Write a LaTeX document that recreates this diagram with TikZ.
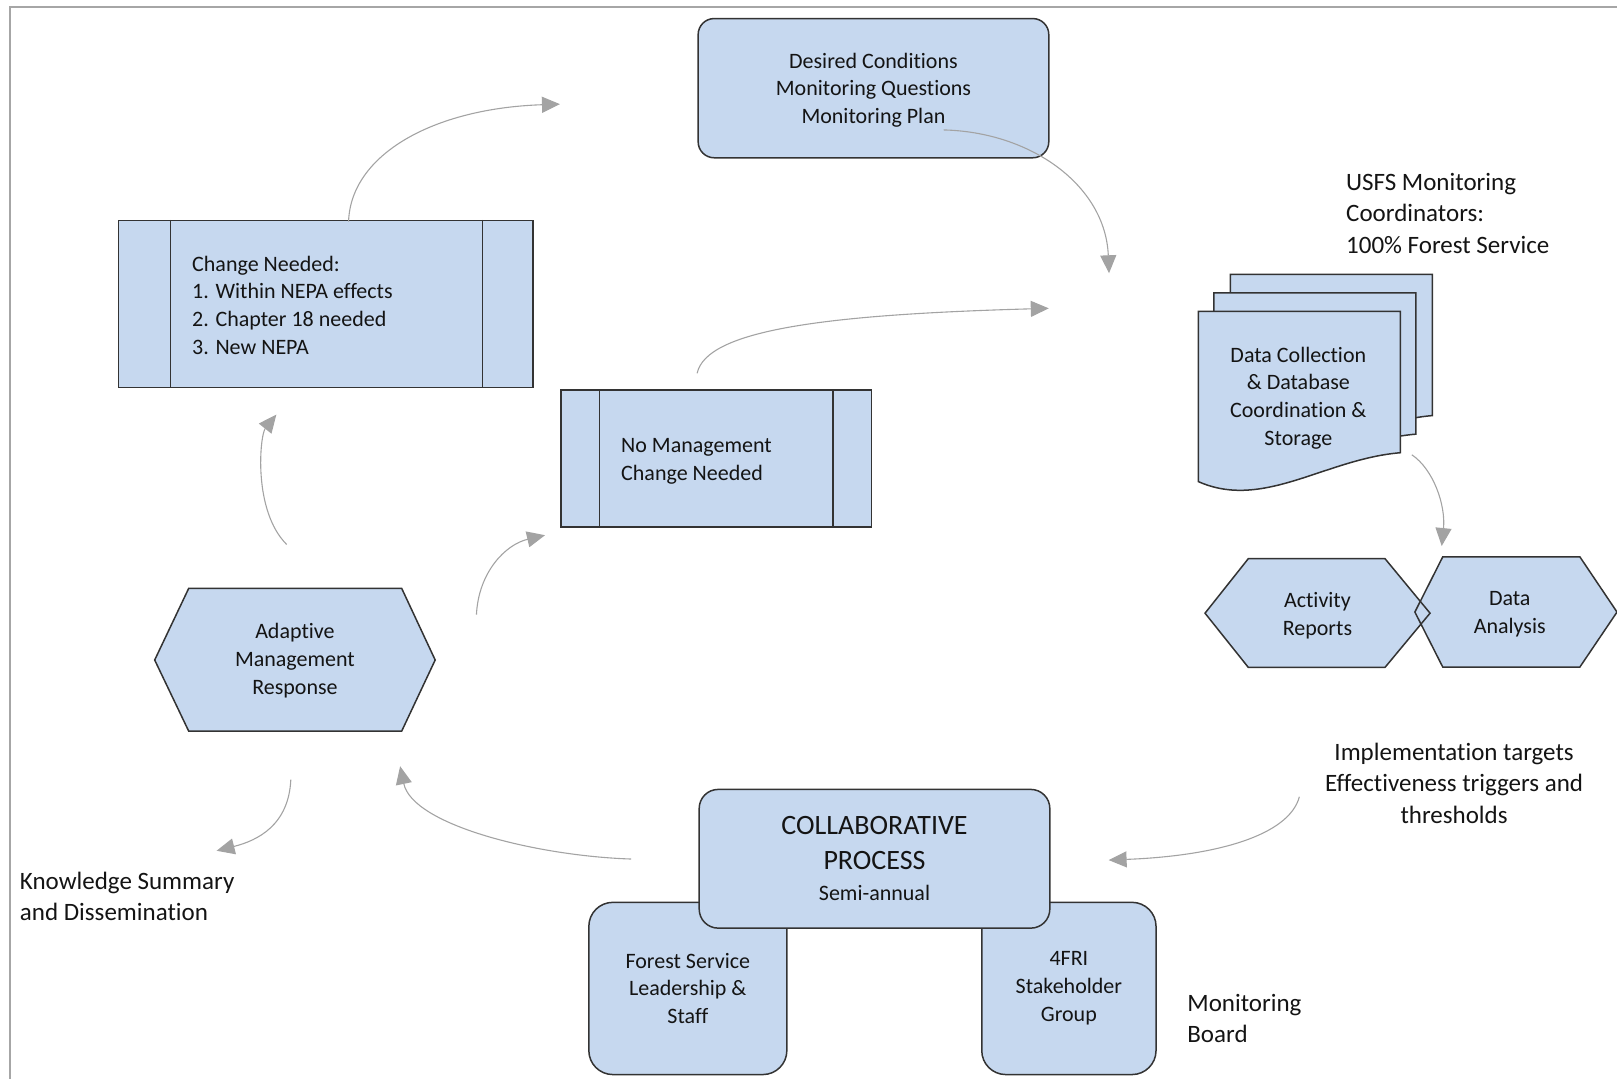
\documentclass[tikz,border=0pt]{standalone}
\usepackage{fontspec}
\setmainfont{Carlito}[Ligatures={NoCommon,NoDiscretionary,NoContextual}]
\usetikzlibrary{arrows.meta}
\definecolor{boxfill}{HTML}{C6D8EF}
\definecolor{boxline}{HTML}{333333}
\definecolor{arrgray}{HTML}{A3A3A3}
\definecolor{framegray}{HTML}{A6A6A6}
\definecolor{txt}{HTML}{141414}
\def\pu{0.515625pt}
\tikzset{
  shapebox/.style={draw=boxline, fill=boxfill, line width=0.75pt},
  plainbox/.style={shapebox, inner sep=0pt},
  rbox/.style={shapebox, rounded corners=#1, inner sep=0pt, align=center, text=txt,
    font=\fontsize{11}{13.9}\selectfont},
  boxtext/.style={font=\fontsize{11}{13.9}\selectfont, align=center, inner sep=0pt, text=txt},
  lefttext/.style={font=\fontsize{11}{13.9}\selectfont, align=left, inner sep=0pt, anchor=west, text=txt},
  freetext/.style={font=\fontsize{12.5}{15.6}\selectfont, inner sep=0pt, text=txt},
  arr/.style={draw=arrgray, line width=0.55pt, -{Triangle[length=9pt,width=8pt]}},
}
\begin{document}
\begin{tikzpicture}[x=0.515625pt, y=-0.515625pt]
\useasboundingbox (0,0) rectangle (1568,1046.3);

% frame
\coordinate (fr1) at (9.7,1060);
\coordinate (fr2) at (9.7,6.8);
\coordinate (fr3) at (1580,6.8);
\draw[framegray, line width=1pt] (fr1) -- (fr2) -- (fr3);

% Desired conditions
\node[plainbox, rounded corners=8pt, minimum width=340*\pu, minimum height=135*\pu] (dcbox) at (847,85.5) {};
\node[boxtext] (dc) at (847,87.5) {Desired Conditions\\Monitoring Questions\\Monitoring Plan};

% Change needed
\node[plainbox, minimum width=402*\pu, minimum height=162*\pu] (cnbox) at (316,295) {};
\draw[boxline, line width=0.75pt]
  ([xshift=51*\pu]cnbox.north west) -- ([xshift=51*\pu]cnbox.south west)
  ([xshift=-50*\pu]cnbox.north east) -- ([xshift=-50*\pu]cnbox.south east);
\node[lefttext] (cn) at (186,296) {Change Needed:\\1. Within NEPA effects\\2. Chapter 18 needed\\3. New NEPA};

% No management change
\node[plainbox, minimum width=301*\pu, minimum height=133*\pu] (nmbox) at (694.5,444.5) {};
\draw[boxline, line width=0.75pt]
  ([xshift=38*\pu]nmbox.north west) -- ([xshift=38*\pu]nmbox.south west)
  ([xshift=-38*\pu]nmbox.north east) -- ([xshift=-38*\pu]nmbox.south east);
\node[lefttext] (nm) at (602,447) {No Management\\Change Needed};

% Adaptive management response hexagon
\draw[shapebox] (150,640) -- (183,570.5) -- (389.5,570.5) -- (422,640) -- (389.5,709) -- (183,709) -- cycle;
\node[boxtext] (amr) at (286,640.5) {Adaptive\\Management\\Response};

% Document stack
\foreach \dx/\dy in {31/-36, 15/-18, 0/0} {
  \draw[shapebox, shift={(1162+\dx,302+\dy)}]
    (0,0) -- (196,0) -- (196,137) .. controls (123,143) and (63,193) .. (0,165) -- cycle;
}
\node[boxtext] (dcs) at (1259,386) {Data Collection\\\& Database\\Coordination \&\\Storage};

\node[freetext, anchor=west, align=left] (usfs) at (1305,207) {USFS Monitoring\\Coordinators:\\100\% Forest Service};

% hexagons right
\fill[boxfill] (1372,593.5) -- (1399,540) -- (1532,540) -- (1568,593.5) -- (1532,646.8) -- (1399,646.8) -- cycle;
\fill[boxfill] (1168.5,594.6) -- (1210.5,541.7) -- (1343,541.7) -- (1386.7,594.6) -- (1343,647.2) -- (1210.5,647.2) -- cycle;
\draw[boxline, line width=0.75pt] (1372,593.5) -- (1399,540) -- (1532,540) -- (1568,593.5) -- (1532,646.8) -- (1399,646.8) -- cycle;
\draw[boxline, line width=0.75pt] (1168.5,594.6) -- (1210.5,541.7) -- (1343,541.7) -- (1386.7,594.6) -- (1343,647.2) -- (1210.5,647.2) -- cycle;
\node[boxtext] (ar) at (1277.5,597) {Activity\\Reports};
\node[boxtext] (da) at (1464,595.5) {Data\\Analysis};

% labels
\node[freetext, align=center] (impl) at (1410,759.5) {Implementation targets\\Effectiveness triggers and\\thresholds};
\node[freetext, anchor=west, align=left] (ks) at (19,869.5) {Knowledge Summary\\and Dissemination};
\node[freetext, anchor=west, align=left] (mb) at (1151,988) {Monitoring\\Board};

% collaborative process group
\node[rbox=12pt, minimum width=192*\pu, minimum height=167*\pu] (fs) at (667,958.5)
  {Forest Service\\Leadership \&\\Staff};
\node[rbox=12pt, minimum width=169*\pu, minimum height=167*\pu] (fri) at (1036.5,958.5)
  {4FRI\\Stakeholder\\Group};
\node[rbox=9.5pt, minimum width=340*\pu, minimum height=134.5*\pu,
      font=\fontsize{14}{17.3}\selectfont] (cp) at (848,832.75)
  {COLLABORATIVE\\PROCESS\\[-1.8pt]{\fontsize{11}{13.9}\selectfont Semi-annual}};

% connectors
\coordinate (a1s) at (338,215);    \coordinate (a1e) at (543,101);
\coordinate (a2s) at (915,126);    \coordinate (a2e) at (1075.4,265);
\coordinate (a3s) at (676,362);    \coordinate (a3e) at (1017,299);
\coordinate (a4s) at (278,528);    \coordinate (a4e) at (268,402);
\coordinate (a5s) at (462,596);    \coordinate (a5e) at (528.5,519);
\coordinate (a6s) at (1369,441);   \coordinate (a6e) at (1398,529.5);
\coordinate (a7s) at (612,833);    \coordinate (a7e) at (388,743);
\coordinate (a8s) at (282,756);    \coordinate (a8e) at (210,825);
\coordinate (a9s) at (1260,772.6); \coordinate (a9e) at (1075,834);

\draw[arr] (a1s) .. controls (340,150) and (420,105) .. (a1e);
\draw[arr] (a2s) .. controls (1000,128) and (1072,180) .. (a2e);
\draw[arr] (a3s) .. controls (685,320) and (800,305) .. (a3e);
\draw[arr] (a4s) .. controls (245,495) and (252,422) .. (a4e);
\draw[arr] (a5s) .. controls (464,555) and (490,528) .. (a5e);
\draw[arr] (a6s) .. controls (1390,455) and (1402,490) .. (a6e);
\draw[arr] (a7s) .. controls (520,830) and (400,800) .. (a7e);
\draw[arr] (a8s) .. controls (280,800) and (250,815) .. (a8e);
\draw[arr] (a9s) .. controls (1250,810) and (1180,830) .. (a9e);
\end{tikzpicture}
\end{document}
